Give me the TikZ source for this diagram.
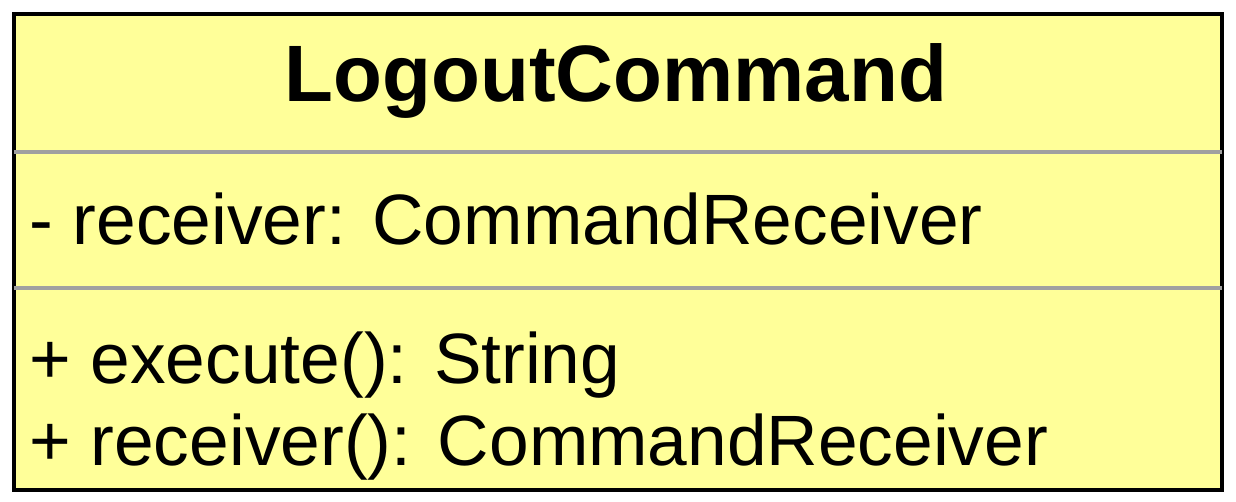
\documentclass[tikz,border=0pt]{standalone}
\usepackage{fontspec}
\setmainfont{Liberation Sans}
\definecolor{classyellow}{HTML}{FFFF99}
\definecolor{sepgray}{HTML}{A0A0A0}
\begin{document}
\begin{tikzpicture}[x=1pt,y=-1pt,
  txt/.style={inner sep=0pt, anchor=base west, font=\fontsize{71.3}{80}\selectfont},
  title/.style={inner sep=0pt, anchor=base, font=\fontsize{80}{90}\selectfont\bfseries},
  sep/.style={draw=sepgray, line width=3.5pt}]
\useasboundingbox (0,0) rectangle (1236,502);
\node[draw=black, line width=4pt, fill=classyellow, minimum width=1208pt, minimum height=476pt, anchor=north west, inner sep=0pt] (box) at (12,12) {};
\draw[sep] (14,152) -- (1222,152);
\draw[sep] (14,288) -- (1222,288);
\node[title] (name) at (616,102) {LogoutCommand};
\node[txt] (attr) at (29,245) {- receiver: CommandReceiver};
\node[txt] (op1) at (29,383) {+ execute(): String};
\node[txt] (op2) at (29,465) {+ receiver(): CommandReceiver};
\end{tikzpicture}
\end{document}
